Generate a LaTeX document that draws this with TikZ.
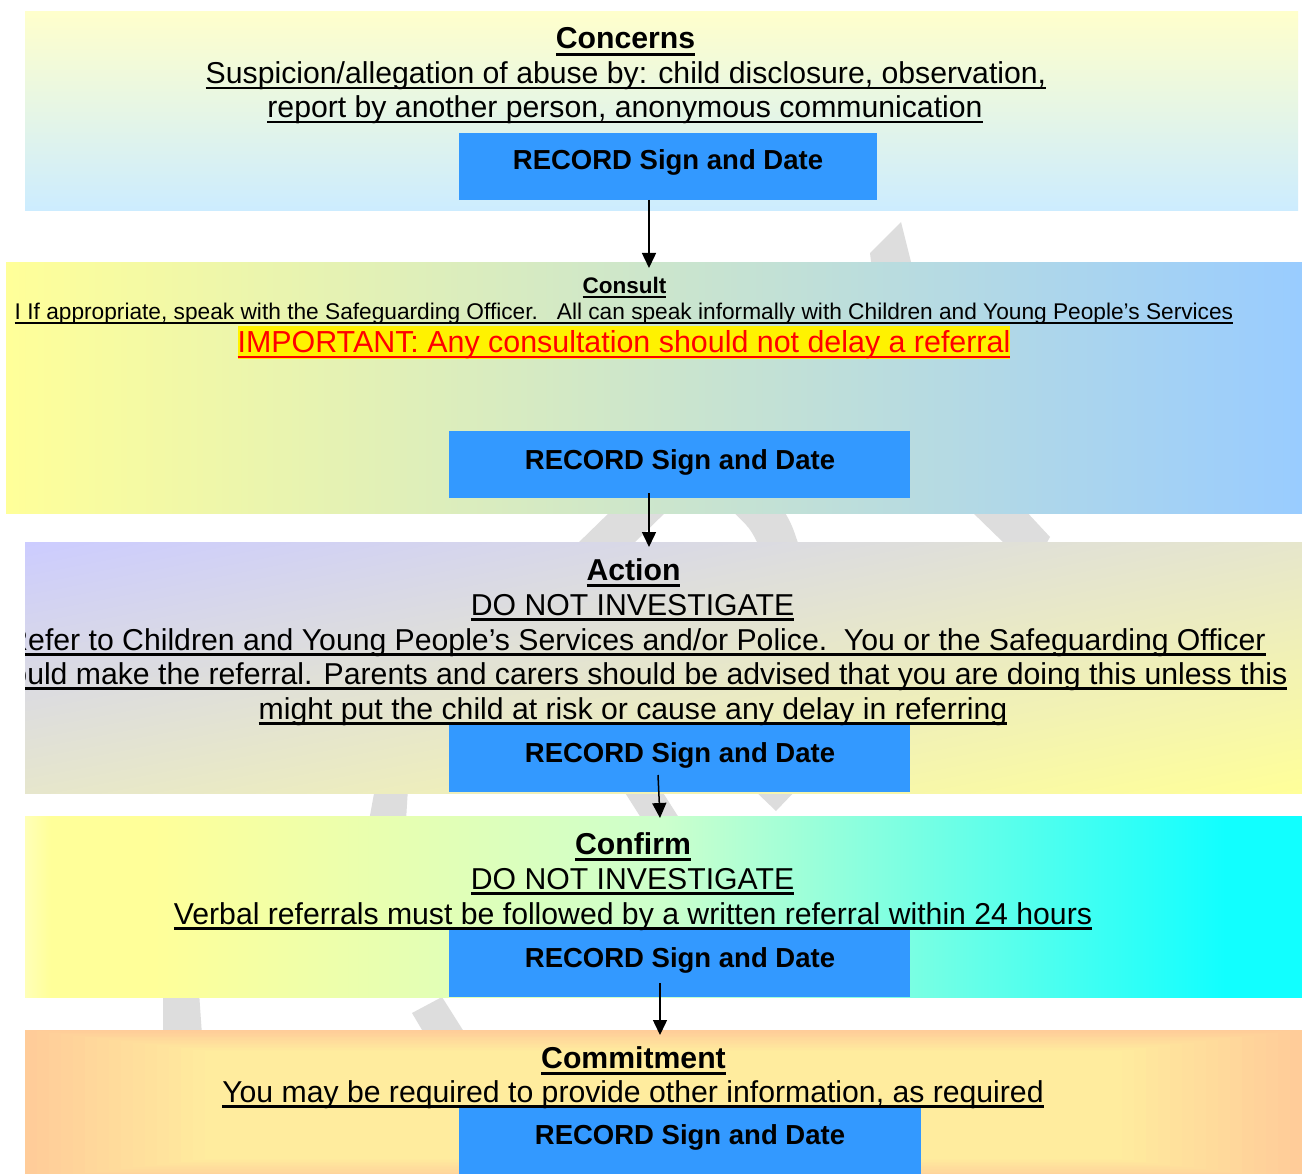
\documentclass[tikz,border=0pt]{standalone}
\usepackage{fontspec}
\setmainfont{Liberation Sans}
\usetikzlibrary{arrows.meta,shadings}
\definecolor{recblue}{HTML}{3399FF}
\definecolor{wmgray}{HTML}{DDDDDD}
\definecolor{aTop}{HTML}{FFFFCC}
\definecolor{aBot}{HTML}{CCECFF}
\definecolor{bL}{HTML}{FFFF99}
\definecolor{bR}{HTML}{99CCFF}
\definecolor{cUL}{HTML}{CCCCFF}
\definecolor{cLR}{HTML}{FFFF99}
\definecolor{cMid}{HTML}{E6E6CC}
\definecolor{dW}{HTML}{FFFFB8}
\definecolor{dY}{HTML}{FFFF99}
\definecolor{dG}{HTML}{CCFFCC}
\definecolor{dC}{HTML}{11FFFF}
\definecolor{ePeach}{HTML}{FFCC99}
\definecolor{eYel}{HTML}{FFEC9E}
\pgfdeclarehorizontalshading{confirmshade}{100bp}{color(0bp)=(dW); color(25bp)=(dW); color(26bp)=(dY); color(30bp)=(dY); color(50bp)=(dG); color(72bp)=(dC); color(100bp)=(dC)}
\newcommand\fbig{\fontsize{30.2pt}{34.5pt}\selectfont}
\newcommand\fimp{\fontsize{30.4pt}{34.5pt}\selectfont}
\newcommand\frec{\fontsize{27.5pt}{31pt}\selectfont\bfseries}
\newcommand\fsmall{\fontsize{22.5pt}{26pt}\selectfont}
\newcommand\fsmaller{\fontsize{22.7pt}{26pt}\selectfont}
\newcommand\ULtitle[1]{\setbox0\hbox{#1}\rlap{\rule[-7pt]{\wd0}{2.8pt}}\box0}
\newcommand\ULbody[1]{\setbox0\hbox{#1}\rlap{\rule[-5.5pt]{\wd0}{2.5pt}}\box0}
\newcommand\ULsmall[1]{\setbox0\hbox{#1}\rlap{\rule[-4.2pt]{\wd0}{2.2pt}}\box0}
\newcommand\ULimp[1]{\setbox0\hbox{\color{red}#1}\rlap{\color{yellow}\rule[-6.5pt]{\wd0}{33.5pt}}\rlap{\color{red}\rule[-5.5pt]{\wd0}{2.6pt}}\box0}
\begin{document}
\begin{tikzpicture}[x=1pt, y=-1pt,
  every node/.style={inner sep=0pt, outer sep=0pt},
  band/.style={anchor=north west, draw=none},
  recbox/.style={anchor=north west, fill=recblue, minimum height=67pt},
  lbl/.style={anchor=base, font=\fbig},
  rectext/.style={anchor=base, font=\frec},
  smalllbl/.style={anchor=base, font=\fsmall},
  arr/.style={-{Triangle[length=15pt,width=14pt]}, line width=1.5pt, black},
  wm/.style={fill=wmgray, draw=none}]
\useasboundingbox (0,0) rectangle (1302,1174);
\fill[white] (0,0) rectangle (1302,1174);

% watermark fragments
\path[wm] (870,253) -- (901,222) -- (913,270) -- (872,270) -- cycle;
\path[wm] (575,546) -- (613,509) -- (669,509) -- (631,546) -- cycle;
\path[wm] (730,509) -- (783,509) .. controls (792,525) .. (799,546) -- (759,546) .. controls (750,528) .. cycle;
\path[wm] (969,509) -- (1024,509) -- (1050,537) -- (1045,546) -- (1007,546) -- cycle;
\path[wm] (375,788) -- (408,788) -- (406,821) -- (369,821) -- cycle;
\path[wm] (622,788) -- (660,788) -- (681,821) -- (643,821) -- cycle;
\path[wm] (752,788) -- (798,788) -- (776,811) -- cycle;
\path[wm] (163,992) -- (199,992) -- (202,1035) -- (163,1035) -- cycle;
\path[wm] (412,1013) -- (442,997) -- (466,1035) -- (425,1035) -- cycle;

% bands
\node[band, minimum width=1273pt, minimum height=199pt, top color=aTop, bottom color=aBot] (b1) at (25,12) {};
\node[band, minimum width=1296pt, minimum height=250pt, left color=bL, right color=bR] (b2) at (6,263) {};
\node[band, minimum width=1277pt, minimum height=251pt, upper left=cUL, lower right=cLR, upper right=cMid, lower left=cMid] (b3) at (25,542) {};
\node[band, minimum width=1277pt, minimum height=181pt, shading=confirmshade] (b4) at (25,816) {};
\node[band, minimum width=1277pt, minimum height=150pt, fill=ePeach] (b5) at (25,1030) {};
\begin{scope}
\clip (b5.north west) rectangle (b5.south east);
\foreach \i in {1,...,15} {
  \pgfmathsetmacro\p{\i/15*100}
  \fill[eYel!\p!ePeach] (25+\i*12,1030+\i*1.4) rectangle (1302-\i*12,1180-\i*1.4);
}
\end{scope}

% record boxes
\node[recbox, minimum width=418pt] (r1) at (459,133) {};
\node[recbox, minimum width=461pt] (r2) at (449,431) {};
\node[recbox, minimum width=461pt] (r3) at (449,725) {};
\node[recbox, minimum width=461pt] (r4) at (449,930) {};
\node[recbox, minimum width=462pt, minimum height=72pt] (r5) at (459,1108) {};

% texts box 1
\node[lbl] (t1a) at (625.5,49) {\ULtitle{\bfseries Concerns}};
\node[lbl] (t1b) at (626,84) {\ULbody{Suspicion/allegation of abuse by: child disclosure, observation,}};
\node[lbl] (t1c) at (625,118) {\ULbody{report by another person, anonymous communication}};
\node[rectext] (r1t) at (668,170) {RECORD Sign and Date};

% texts box 2
\node[smalllbl] (t2a) at (624.5,294) {\ULsmall{\bfseries Consult}};
\node[smalllbl, font=\fsmaller] (t2b) at (624,320) {\ULsmall{I If appropriate, speak with the Safeguarding Officer.\ \ \ All can speak informally with Children and Young People’s Services}};
\node[lbl, font=\fimp] (t2c) at (624,353) {\ULimp{IMPORTANT: Any consultation should not delay a referral}};
\node[rectext] (r2t) at (680,469) {RECORD Sign and Date};

% texts box 3
\node[lbl] (t3a) at (633.5,580) {\ULtitle{\bfseries Action}};
\node[lbl] (t3b) at (632.5,615) {\ULbody{DO NOT INVESTIGATE}};
\begin{scope}
\clip (b3.north west) rectangle (b3.south east);
\node[lbl] (t3c) at (636,650) {\ULbody{Refer to Children and Young People’s Services and/or Police.\ \ You or the Safeguarding Officer}};
\node[lbl] (t3d) at (633,684) {\ULbody{should make the referral. Parents and carers should be advised that you are doing this unless this}};
\end{scope}
\node[lbl] (t3e) at (633,719) {\ULbody{might put the child at risk or cause any delay in referring}};
\node[rectext] (r3t) at (680,762) {RECORD Sign and Date};

% texts box 4
\node[lbl] (t4a) at (633,854) {\ULtitle{\bfseries Confirm}};
\node[lbl] (t4b) at (632.5,889) {\ULbody{DO NOT INVESTIGATE}};
\node[lbl] (t4c) at (633,924) {\ULbody{Verbal referrals must be followed by a written referral within 24 hours}};
\node[rectext] (r4t) at (680,967) {RECORD Sign and Date};

% texts box 5
\node[lbl] (t5a) at (633.5,1068) {\ULtitle{\bfseries Commitment}};
\node[lbl] (t5b) at (633,1102) {\ULbody{You may be required to provide other information, as required}};
\node[rectext] (r5t) at (690,1144) {RECORD Sign and Date};

% arrows
\draw[arr] ([xshift=-19pt]r1.south) -- ([xshift=-5pt,yshift=-5pt]b2.north);
\draw[arr] ([xshift=-30.5pt,yshift=5pt]r2.south) -- ([xshift=-14.5pt,yshift=-5pt]b3.north);
\draw[arr] ([xshift=-21.5pt,yshift=17pt]r3.south) -- ([xshift=-3.5pt,yshift=-2pt]b4.north);
\draw[arr] ([xshift=-19.5pt,yshift=14pt]r4.south) -- ([xshift=-3.5pt,yshift=-5pt]b5.north);
\end{tikzpicture}
\end{document}
